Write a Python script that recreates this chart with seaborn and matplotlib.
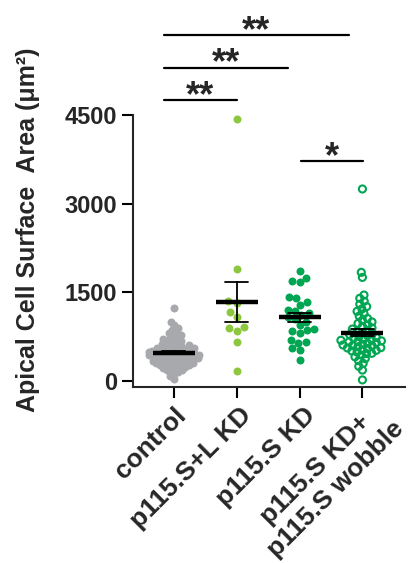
import numpy as np
import pandas as pd
import matplotlib
matplotlib.use("Agg")
import matplotlib.pyplot as plt
import matplotlib.transforms as mtransforms
import seaborn as sns

# Values (apical cell surface area, um^2)
groups = ["control", "p115.S+L KD", "p115.S KD", "p115.S KD+\np115.S wobble"]

control = [1235, 1005, 950, 905, 870, 842, 815, 790, 772, 748, 731, 712, 698, 683,
           667, 652, 641, 628, 616, 604,
           596, 588, 577, 569, 561, 553, 547, 538, 531, 524, 518, 512, 506, 499,
           493, 488, 482, 477, 471, 466, 460, 455, 449, 444, 438, 433, 427, 422,
           416, 411, 405, 399, 394, 388, 381, 375, 368, 362, 355, 347, 340, 333,
           325, 316, 308, 298, 289, 278, 266, 254, 240, 226, 210, 192, 171, 148,
           118, 82, 38, 305, 272, 231, 185]
sl_kd = [4428, 1890, 1354, 1325, 1173, 1088, 919, 891, 846, 665, 169]
s_kd = [1866, 1750, 1680, 1690, 1420, 1400, 1330, 1290, 1210, 1190, 1160, 1120, 1080,
        1050, 1000, 950, 880, 860, 840, 820, 700, 660, 650, 560, 530, 360]
wobble = [3249, 1839, 1754, 1455, 1400, 1350, 1300, 1260, 1220, 1180, 1140, 1100,
          1060, 1030, 1000, 975, 950, 925, 900, 880, 860, 840, 820, 800, 785, 770,
          755, 740, 725, 710, 700, 690, 680, 670, 660, 650, 640, 625, 610, 595, 580,
          565, 550, 530, 510, 490, 465, 440, 410, 380, 345, 300, 250, 186, 20,
          600, 560, 520, 470]

colors = ["#a7a9ac", "#8dc63f", "#00a651", "#00a651"]
open_marker = [False, False, False, True]
swarm_size = [3.0, 5.8, 5.2, 3.7]
label_dx = [0, 2, 4, 9]          # px offset of rotated category labels from tick
label_dy = [-16, -16, -16, -10]

# significance annotations: group pairs, bar height, label
sig_pairs = [(0, 3), (0, 2), (0, 1), (2, 3)]
sig_left = [-0.16, -0.16, -0.16, 0.03]
sig_right = [-0.21, -0.18, 0.0, 0.01]
sig_y = [5850, 5300, 4750, 3720]
sig_labels = ["**", "**", "**", "*"]

sns.set_style("ticks")
plt.rcParams["font.family"] = ["Liberation Sans", "DejaVu Sans"]
plt.rcParams["font.weight"] = "bold"

values = [control, sl_kd, s_kd, wobble]
df = pd.DataFrame({
    "group": np.repeat(groups, [len(v) for v in values]),
    "area": np.concatenate(values),
})

fig = plt.figure(figsize=(4.13, 5.63), dpi=100)
ax = fig.add_axes([0.322, 0.3126, 0.659, 0.4831])

swarms = []
for g, c, sz in zip(groups, colors, swarm_size):
    n_before = len(ax.collections)
    sns.swarmplot(data=df[df["group"] == g], x="group", y="area", order=groups,
                  color=c, size=sz, ax=ax, zorder=1)
    new = [cl for cl in ax.collections[n_before:] if len(cl.get_offsets()) > 0]
    swarms.append(new)

ax.set_xlim(-0.65, 3.68)
ax.set_ylim(-100, 4500)

# lock swarm positions computed with small markers, then draw larger (overlapping) dots
fig.canvas.draw()
for coll in ax.collections:
    if "draw" in vars(coll):
        del coll.draw
for colls, c, is_open in zip(swarms, colors, open_marker):
    for coll in colls:
        if is_open:
            coll.set_sizes([26])
            coll.set_facecolor("none")
            coll.set_edgecolor(c)
            coll.set_linewidth(1.5)
        else:
            coll.set_sizes([33])

# mean +/- SEM
sns.pointplot(data=df, x="group", y="area", order=groups, estimator="mean",
              errorbar="se", color="black", markers="_", markersize=30,
              markeredgewidth=3.2, linestyle="none", capsize=0.37,
              err_kws={"linewidth": 1.3}, ax=ax)

ax.set_xlim(-0.65, 3.68)
ax.set_ylim(-100, 4500)
ax.set_yticks([0, 1500, 3000, 4500])
ax.set_xticks(range(len(groups)))
ax.set_xticklabels([""] * len(groups))
for i, (g, dx, dy) in enumerate(zip(groups, label_dx, label_dy)):
    off = mtransforms.ScaledTranslation(dx / 100, dy / 100, fig.dpi_scale_trans)
    ax.text(i, 0, g, transform=ax.get_xaxis_transform() + off, rotation=45,
            ha="right", va="top", rotation_mode="anchor", multialignment="center",
            fontsize=19, fontweight="bold")
for lbl in ax.get_yticklabels():
    lbl.set_fontsize(17)
    lbl.set_fontweight("bold")

ax.set_xlabel("")
ax.set_ylabel("Apical Cell Surface  Area (\u03bcm\u00b2)", fontsize=18, fontweight="bold")
ax.yaxis.set_label_coords(-0.34, 0.577)

sns.despine(ax=ax)
for side in ["left", "bottom"]:
    ax.spines[side].set_linewidth(1.5)
ax.tick_params(axis="both", length=8, width=1.5, color="black")

for (i, j), l, r, y, lab in zip(sig_pairs, sig_left, sig_right, sig_y, sig_labels):
    x0, x1 = i + l, j + r
    ax.plot([x0, x1], [y, y], color="black", lw=1.6, clip_on=False)
    ax.text((x0 + x1) / 2, y - 100, lab, ha="center", va="baseline",
            fontsize=26, fontweight="bold", clip_on=False)

fig.savefig("out.png", dpi=100)
